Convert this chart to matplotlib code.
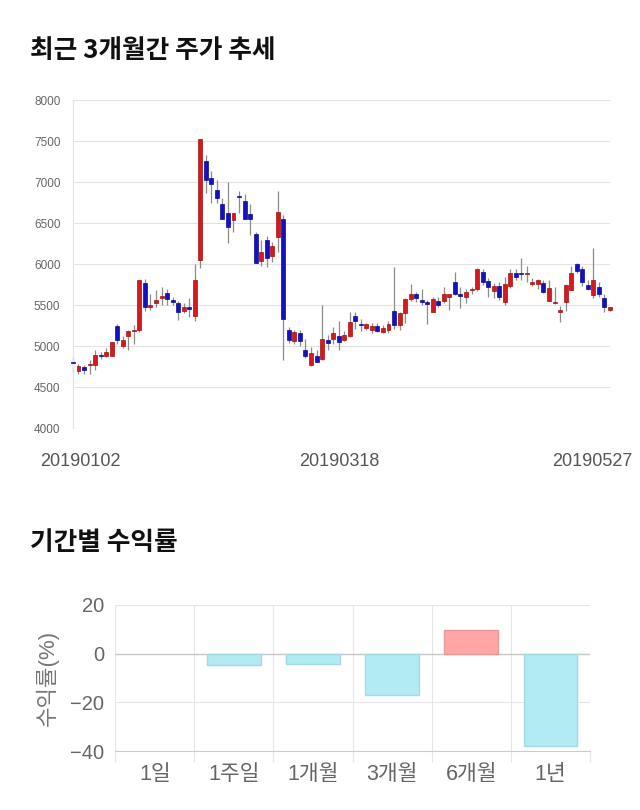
import matplotlib
matplotlib.use('Agg')
import matplotlib.pyplot as plt
from matplotlib.transforms import ScaledTranslation
import numpy as np

plt.rcParams['font.family'] = ['Noto Sans CJK KR', 'DejaVu Sans']
latin = ['Liberation Sans', 'Noto Sans CJK KR']

# daily candles, 2019-01-02 .. 2019-05-27
opens = [4800, 4695, 4745, 4765, 4770, 4890, 4880, 4880, 5245, 5000,
         5120, 5180, 5195, 5770, 5480, 5520, 5590, 5650, 5560, 5525,
         5430, 5480, 5360, 6050, 7255, 7045, 6900, 6730, 6620, 6540,
         6835, 6770, 6605, 6365, 6040, 6295, 6100, 6335, 6555, 5195,
         5065, 5160, 4950, 4770, 4880, 4840, 5075, 5080, 5125, 5075,
         5125, 5360, 5265, 5215, 5190, 5240, 5170, 5195, 5430, 5255,
         5405, 5570, 5635, 5560, 5535, 5415, 5555, 5555, 5600, 5780,
         5635, 5600, 5680, 5690, 5905, 5795, 5665, 5735, 5535, 5730,
         5895, 5880, 5875, 5760, 5760, 5765, 5555, 5520, 5415, 5540,
         5685, 6000, 5945, 5745, 5620, 5725, 5580, 5440]
highs = [4870, 4780, 4770, 4830, 4950, 4930, 4970, 5050, 5270, 5120,
         5195, 5260, 5810, 5820, 5640, 5680, 5720, 5700, 5600, 5545,
         5530, 5590, 6000, 7530, 7330, 7140, 7025, 6800, 7005, 6620,
         6895, 6855, 6730, 6395, 6295, 6340, 6270, 6895, 6600, 5230,
         5200, 5190, 5080, 4990, 4950, 5500, 5130, 5230, 5300, 5185,
         5420, 5420, 5330, 5280, 5280, 5280, 5260, 5310, 5960, 5410,
         5580, 5755, 5660, 5695, 5560, 5600, 5600, 5715, 5640, 5905,
         5715, 5700, 5715, 5950, 5945, 5830, 5770, 5775, 5845, 5940,
         5940, 6070, 5970, 5830, 5820, 5800, 5800, 5725, 5490, 5760,
         5970, 6010, 5970, 5800, 6190, 5775, 5640, 5480]
lows = [4670, 4660, 4660, 4660, 4710, 4840, 4860, 4880, 5020, 4980,
        4950, 5020, 5170, 5430, 5440, 5470, 5500, 5500, 5500, 5320,
        5400, 5350, 5300, 5950, 6865, 6745, 6745, 6545, 6260, 6395,
        6620, 6545, 6355, 6010, 5970, 5965, 6020, 6150, 4830, 5035,
        5020, 5000, 4850, 4755, 4800, 4830, 4950, 5020, 4950, 5060,
        5110, 5210, 5185, 5190, 5160, 5170, 5160, 5160, 5210, 5200,
        5280, 5545, 5540, 5500, 5270, 5410, 5480, 5520, 5440, 5620,
        5465, 5530, 5640, 5675, 5740, 5600, 5590, 5560, 5500, 5710,
        5800, 5800, 5780, 5735, 5700, 5650, 5550, 5510, 5295, 5430,
        5685, 5890, 5730, 5680, 5580, 5600, 5420, 5430]
closes = [4790, 4755, 4705, 4775, 4890, 4875, 4930, 5050, 5075, 5075,
          5185, 5190, 5805, 5480, 5505, 5560, 5615, 5570, 5540, 5420,
          5480, 5450, 5805, 7530, 7025, 6970, 6800, 6545, 6455, 6620,
          6815, 6545, 6545, 6010, 6145, 6070, 6225, 6630, 5325, 5075,
          5165, 5065, 4880, 4910, 4810, 5080, 5040, 5155, 5055, 5130,
          5290, 5310, 5260, 5265, 5240, 5185, 5225, 5265, 5255, 5400,
          5570, 5635, 5585, 5540, 5515, 5570, 5505, 5630, 5635, 5635,
          5610, 5660, 5690, 5945, 5785, 5725, 5735, 5600, 5755, 5895,
          5845, 5875, 5880, 5785, 5805, 5655, 5705, 5540, 5440, 5745,
          5895, 5920, 5785, 5690, 5805, 5635, 5480, 5475]
date_ticks = [0, 49, 97]
date_labels = ['20190102', '20190318', '20190527']

periods = ['1일', '1주일', '1개월', '3개월', '6개월', '1년']
returns = [0.0, -4.8, -4.2, -16.8, 9.6, -37.8]

fig = plt.figure(figsize=(6.4, 8.1), dpi=100)

# ---- candle chart
ax = fig.add_axes([0.114, 0.4716, 0.839, 0.4049])
x = np.arange(len(opens))
o = np.array(opens)
c = np.array(closes)
up = c >= o
colors = np.where(up, '#d7191c', '#1212c4')
edges = np.where(up, '#a01010', '#0a0a90')
ax.vlines(x, lows, highs, color='#8c8c8c', linewidth=0.9, zorder=2, clip_on=False)
body_bottom = np.minimum(o, c)
body_height = np.maximum(np.abs(c - o), 12)
ax.bar(x, body_height, bottom=body_bottom, width=0.72, color=colors,
       edgecolor=edges, linewidth=0.5, zorder=3, clip_on=False)

ax.set_xlim(0, 97)
ax.set_ylim(4000, 8000)
ax.set_yticks(range(4000, 8001, 500))
ax.tick_params(axis='y', length=0, labelsize=8.5, labelcolor='#666666', pad=9)
ax.grid(axis='y', color='#e3e3e3', linewidth=0.8)
ax.set_axisbelow(True)
for s in ['top', 'right', 'bottom']:
    ax.spines[s].set_visible(False)
ax.spines['left'].set_color('#e3e3e3')
ax.set_xticks(date_ticks)
ax.set_xticklabels(date_labels)
ax.tick_params(axis='x', length=0, labelsize=13, labelcolor='#555555', pad=18)
for lab in ax.get_yticklabels() + ax.get_xticklabels():
    lab.set_family(latin)
shifts = [7, -5, -18]
for lab, dx in zip(ax.get_xticklabels(), shifts):
    lab.set_transform(lab.get_transform() + ScaledTranslation(dx / 100, 0, fig.dpi_scale_trans))

fig.text(30 / 640, 1 - 50 / 810, '최근 3개월간 주가 추세', fontsize=18.5, fontweight='bold',
         color='#111111', va='center', ha='left')

# ---- returns chart
bx = fig.add_axes([0.180, 0.0728, 0.742, 0.1803])
bar_colors = ['#ffa6a6' if r > 0 else '#b3ebf3' for r in returns]
bar_edges = ['#e89a9a' if r > 0 else '#a3dbe4' for r in returns]
bar_lw = [1 if r != 0 else 0 for r in returns]
bx.bar(range(len(periods)), returns, width=0.68, color=bar_colors,
       edgecolor=bar_edges, linewidth=bar_lw, zorder=3)
bx.set_xlim(-0.5, len(periods) - 0.5)
bx.set_ylim(-40, 20)
bx.set_yticks([-40, -20, 0, 20])
bx.set_xticks(range(len(periods)))
bx.set_xticklabels(periods)
bx.set_xticks(np.arange(-0.5, len(periods), 1), minor=True)
bx.tick_params(axis='x', which='major', length=0, labelsize=15.5, labelcolor='#666666', pad=9)
bx.tick_params(axis='x', which='minor', length=8, color='#e6e6e6', width=0.8)
bx.tick_params(axis='y', length=0, labelsize=14.5, labelcolor='#666666', pad=8)
for lab in bx.get_yticklabels() + bx.get_xticklabels():
    lab.set_family(latin)
bx.grid(axis='x', which='minor', color='#e6e6e6', linewidth=0.8)
bx.grid(axis='y', which='major', color='#e6e6e6', linewidth=0.8)
bx.axhline(0, color='#c8c8c8', linewidth=1, zorder=2)
bx.set_axisbelow(True)
for s in ['top', 'right', 'left']:
    bx.spines[s].set_visible(False)
bx.spines['bottom'].set_color('#cccccc')
bx.set_ylabel('수익률(%)', fontsize=16, color='#777777', labelpad=8, family=latin)

fig.text(30 / 640, 1 - 542 / 810, '기간별 수익률', fontsize=18.5, fontweight='bold',
         color='#111111', va='center', ha='left')

fig.savefig('out.png', dpi=100, facecolor='white')
